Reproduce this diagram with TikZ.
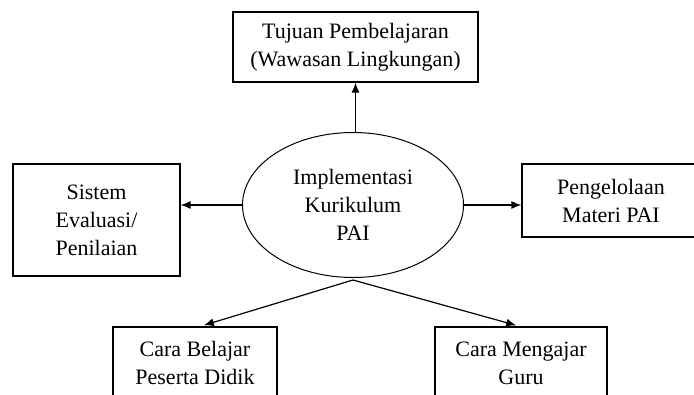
\documentclass[tikz,border=0pt]{standalone}
\usepackage{fontspec}
\setmainfont{Liberation Serif}
\usetikzlibrary{arrows.meta,shapes.geometric}

\begin{document}
\begin{tikzpicture}[x=1pt, y=-1pt,
    box/.style={draw, line width=1.2pt, align=center, inner sep=0pt,
        font=\fontsize{22}{28}\selectfont},
    oval/.style={draw, ellipse, line width=1pt, align=center, inner sep=0pt,
        font=\fontsize{22}{28}\selectfont},
    link/.style={line width=1.2pt, -{Latex[length=10pt,width=8pt]}}
]
    \useasboundingbox (0,0) rectangle (694,394);%page size

    \node[oval, minimum width=221pt, minimum height=145pt] (impl) at (353,205) {Implementasi\\Kurikulum\\PAI};

    \node[box, minimum width=245pt, minimum height=70pt] (tujuan) at (355.5,47) {Tujuan Pembelajaran\\(Wawasan Lingkungan)};
    \node[box, minimum width=167pt, minimum height=112pt] (evaluasi) at (96.5,220) {Sistem\\Evaluasi/\\Penilaian};
    \node[box, minimum width=178pt, minimum height=73pt] (materi) at (611,200.5) {Pengelolaan\\Materi PAI};
    \node[box, minimum width=164pt, minimum height=72pt] (belajar) at (195,363) {Cara Belajar\\Peserta Didik};
    \node[box, minimum width=172pt, minimum height=72pt] (mengajar) at (521,363) {Cara Mengajar\\Guru};

    \coordinate (fork) at ([yshift=-2pt]impl.south);%lines split below the oval

    \draw[link] (impl.north -| tujuan.south) -- (tujuan.south);
    \draw[link] (impl.west) -- (impl.west -| evaluasi.east);
    \draw[link] (impl.east) -- (impl.east -| materi.west);
    \draw[link, shorten >=4pt] (fork) -- ([xshift=5pt]belajar.north);
    \draw[link, shorten >=4pt] (fork) -- ([xshift=-1pt]mengajar.north);
\end{tikzpicture}
\end{document}
